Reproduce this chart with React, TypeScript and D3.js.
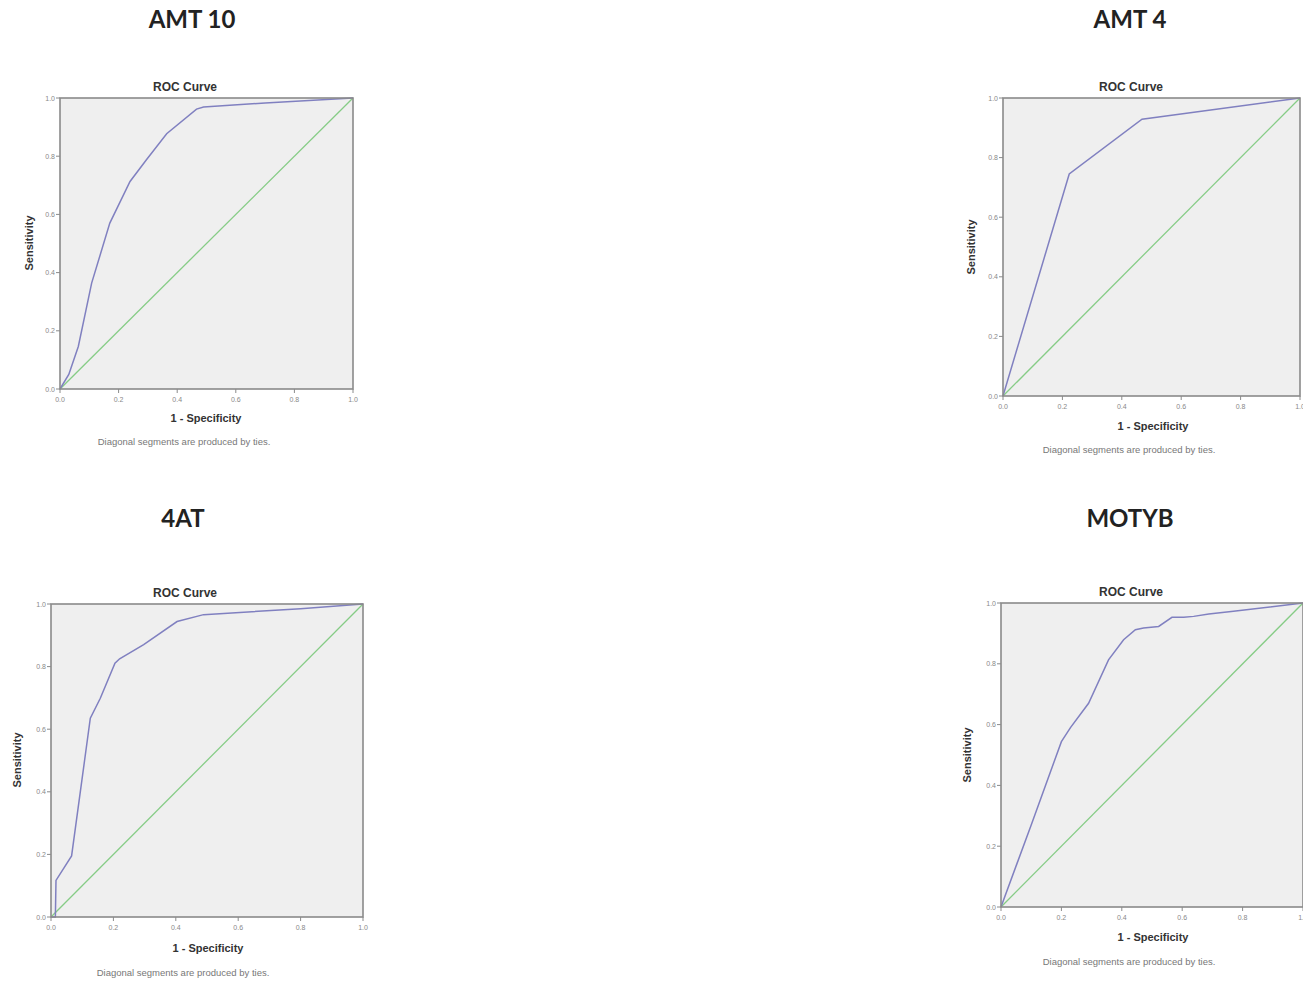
import React from "react";
import * as d3 from "d3";

// ---- Data ----
const panelNames = ["AMT 10", "AMT 4", "4AT", "MOTYB"];
const amt10Fpr = [0, 0.03, 0.0625, 0.108, 0.17, 0.239, 0.295, 0.364, 0.466, 0.49, 0.7, 1.0];
const amt10Tpr = [0, 0.05, 0.146, 0.364, 0.57, 0.713, 0.788, 0.877, 0.962, 0.969, 0.983, 1.0];
const amt4Fpr = [0, 0.223, 0.468, 1.0];
const amt4Tpr = [0, 0.745, 0.929, 1.0];
const at4Fpr = [0, 0.014, 0.016, 0.066, 0.126, 0.158, 0.205, 0.22, 0.297, 0.404, 0.489, 0.8, 1.0];
const at4Tpr = [0, 0.0, 0.117, 0.195, 0.635, 0.699, 0.811, 0.825, 0.87, 0.944, 0.966, 0.985, 1.0];
const motybFpr = [0, 0.1, 0.2, 0.23, 0.29, 0.356, 0.406, 0.445, 0.472, 0.522, 0.566, 0.605, 0.638, 0.688, 0.77, 1.0];
const motybTpr = [0, 0.27, 0.544, 0.59, 0.67, 0.813, 0.879, 0.912, 0.918, 0.923, 0.953, 0.953, 0.956, 0.964, 0.973, 1.0];
const tickValues = [0, 0.2, 0.4, 0.6, 0.8, 1.0];
const tickLabels = ["0.0", "0.2", "0.4", "0.6", "0.8", "1.0"];

const series = [
  { fpr: amt10Fpr, tpr: amt10Tpr },
  { fpr: amt4Fpr, tpr: amt4Tpr },
  { fpr: at4Fpr, tpr: at4Tpr },
  { fpr: motybFpr, tpr: motybTpr },
];

// ---- Layout ----
const layouts = [
  { l: 60, r: 353, t: 98, b: 389, head: [192, 28], title: [185, 91], xl: [206, 422], fn: [184, 445], yl: [33, 243] },
  { l: 1003, r: 1300, t: 98, b: 396, head: [1130, 28], title: [1131, 91], xl: [1153, 430], fn: [1129, 453], yl: [975, 247] },
  { l: 51, r: 363, t: 604, b: 917, head: [183, 527], title: [185, 597], xl: [208, 952], fn: [183, 976], yl: [21, 760] },
  { l: 1001, r: 1303, t: 603, b: 907, head: [1130, 527], title: [1131, 596], xl: [1153, 941], fn: [1129, 965], yl: [971, 755] },
];

const CURVE = "#8080c0";
const DIAG = "#86cc86";
const FRAME = "#8a8a8a";
const BG = "#efefef";
const SANS = "Arial, 'Liberation Sans', sans-serif";

function Panel({ idx }: { idx: number }) {
  const L = layouts[idx];
  const s = series[idx];
  const x = d3.scaleLinear().domain([0, 1]).range([L.l, L.r]);
  const y = d3.scaleLinear().domain([0, 1]).range([L.b, L.t]);
  const pts: [number, number][] = s.fpr.map((f, i) => [f, s.tpr[i]]);
  const line = d3
    .line<[number, number]>()
    .x((d) => x(d[0]))
    .y((d) => y(d[1]));
  const diag = line([
    [0, 0],
    [1, 1],
  ]);
  return (
    <g>
      <text x={L.head[0]} y={L.head[1]} textAnchor="middle" fontFamily="Lato, 'Open Sans', sans-serif" fontWeight="bold" fontSize={24} fill="#222">
        {panelNames[idx]}
      </text>
      <text x={L.title[0]} y={L.title[1]} textAnchor="middle" fontFamily={SANS} fontWeight="bold" fontSize={12} fill="#333">
        ROC Curve
      </text>
      <rect x={L.l} y={L.t} width={L.r - L.l} height={L.b - L.t} fill={BG} />
      <path d={diag || ""} stroke={DIAG} strokeWidth={1.3} fill="none" />
      <path d={line(pts) || ""} stroke={CURVE} strokeWidth={1.5} fill="none" />
      <rect x={L.l} y={L.t} width={L.r - L.l} height={L.b - L.t} fill="none" stroke={FRAME} strokeWidth={1.6} />
      {tickValues.map((v, i) => (
        <g key={"y" + i}>
          <line x1={L.l - 4} x2={L.l} y1={y(v)} y2={y(v)} stroke={FRAME} strokeWidth={1} />
          <text x={L.l - 5} y={y(v) + 2.5} textAnchor="end" fontFamily={SANS} fontSize={7} fill="#888">
            {tickLabels[i]}
          </text>
        </g>
      ))}
      {tickValues.map((v, i) => (
        <g key={"x" + i}>
          <line x1={x(v)} x2={x(v)} y1={L.b} y2={L.b + 4} stroke={FRAME} strokeWidth={1} />
          <text x={x(v)} y={L.b + 13} textAnchor="middle" fontFamily={SANS} fontSize={7} fill="#888">
            {tickLabels[i]}
          </text>
        </g>
      ))}
      <text x={L.xl[0]} y={L.xl[1]} textAnchor="middle" fontFamily={SANS} fontWeight="bold" fontSize={11} fill="#333">
        1 - Specificity
      </text>
      <text x={L.fn[0]} y={L.fn[1]} textAnchor="middle" fontFamily={SANS} fontSize={9.5} fill="#777">
        Diagonal segments are produced by ties.
      </text>
      <text
        transform={`translate(${L.yl[0]},${L.yl[1]}) rotate(-90)`}
        textAnchor="middle"
        fontFamily={SANS}
        fontWeight="bold"
        fontSize={11}
        fill="#333"
      >
        Sensitivity
      </text>
    </g>
  );
}

export default function App() {
  return (
    <svg
      width={1303}
      height={983}
      style={{ position: "absolute", left: 0, top: 0, background: "#fff" }}
    >
      <rect width={1303} height={983} fill="#fff" />
      {panelNames.map((_, i) => (
        <Panel key={i} idx={i} />
      ))}
    </svg>
  );
}
